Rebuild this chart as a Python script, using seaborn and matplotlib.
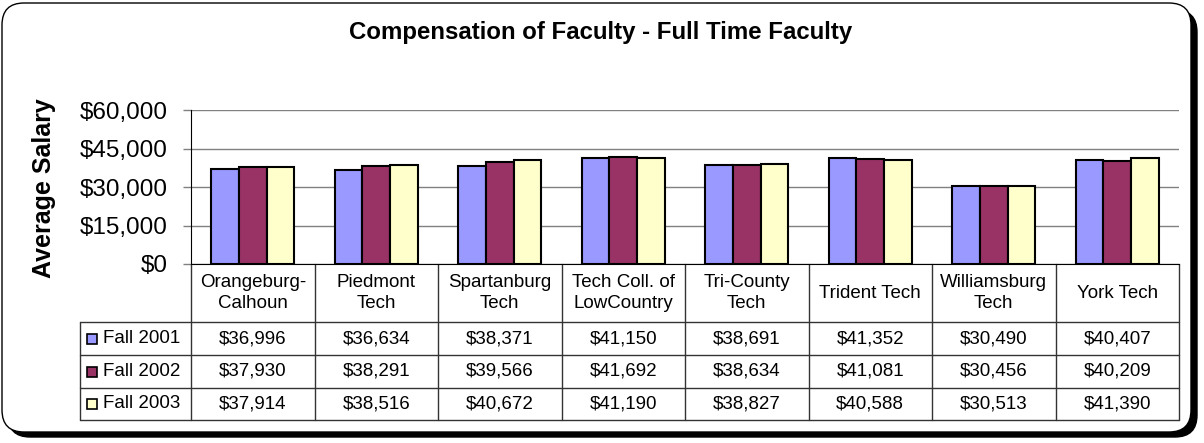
import pandas as pd
import matplotlib.pyplot as plt
import seaborn as sns
from matplotlib.patches import FancyBboxPatch, Rectangle
from matplotlib.transforms import IdentityTransform
from matplotlib.ticker import FuncFormatter

colleges = ["Orangeburg-Calhoun", "Piedmont Tech", "Spartanburg Tech", "Tech Coll. of LowCountry",
            "Tri-County Tech", "Trident Tech", "Williamsburg Tech", "York Tech"]
col_labels = ["Orangeburg-\nCalhoun", "Piedmont\nTech", "Spartanburg\nTech", "Tech Coll. of\nLowCountry",
              "Tri-County\nTech", "Trident Tech", "Williamsburg\nTech", "York Tech"]
terms = ["Fall 2001", "Fall 2002", "Fall 2003"]
fall_2001 = [36996, 36634, 38371, 41150, 38691, 41352, 30490, 40407]
fall_2002 = [37930, 38291, 39566, 41692, 38634, 41081, 30456, 40209]
fall_2003 = [37914, 38516, 40672, 41190, 38827, 40588, 30513, 41390]
colors = ["#9999FF", "#993366", "#FFFFCC"]

series = [fall_2001, fall_2002, fall_2003]
rows = []
for term, vals in zip(terms, series):
    for c, v in zip(colleges, vals):
        rows.append({"college": c, "term": term, "salary": v})
df = pd.DataFrame(rows)

sns.set_style("white")
plt.rcParams["font.family"] = ["Liberation Sans", "DejaVu Sans"]
plt.rcParams["text.color"] = "black"
plt.rcParams["axes.labelcolor"] = "black"
plt.rcParams["ytick.color"] = "black"

W, H = 1204, 443
fig = plt.figure(figsize=(W / 100, H / 100), dpi=100)

# rounded frame with drop shadow, kept behind the axes
shadow = FancyBboxPatch((8, 6), 1189, 427, boxstyle="round,pad=0,rounding_size=22",
                        transform=IdentityTransform(), facecolor="black", edgecolor="black",
                        zorder=-3)
frame = FancyBboxPatch((2, 11), 1189, 429, boxstyle="round,pad=0,rounding_size=22",
                       transform=IdentityTransform(), facecolor="white", edgecolor="black", lw=1,
                       zorder=-2)
fig.patches.extend([shadow, frame])

ax_left, ax_right, ax_top, ax_bot = 191, 1179, 110, 264
ax = fig.add_axes([ax_left / W, 1 - ax_bot / H, (ax_right - ax_left) / W, (ax_bot - ax_top) / H])
ax.set_facecolor("none")

sns.barplot(data=df, x="college", y="salary", hue="term", palette=colors, width=0.67,
            saturation=1, edgecolor="black", linewidth=1.5, ax=ax, legend=False)

ax.set_xlim(-0.5, len(colleges) - 0.5)
ax.set_ylim(0, 60000)
ax.set_yticks(range(0, 60001, 15000))
ax.yaxis.set_major_formatter(FuncFormatter(lambda v, p: f"${v:,.0f}"))
ax.tick_params(axis="y", labelsize=17.5, length=6, width=1, color="#808080", labelcolor="black",
               pad=11, left=True)
ax.tick_params(axis="x", bottom=False, labelbottom=False)
ax.set_xlabel("")
ax.set_ylabel("Average Salary", fontsize=18, fontweight="bold")
ax.yaxis.set_label_coords(-0.137, 0.49)
ax.grid(axis="y", color="#808080", lw=1)
ax.set_axisbelow(True)
for s in ["top", "right"]:
    ax.spines[s].set_visible(False)
ax.spines["left"].set_color("black")
ax.spines["bottom"].set_color("black")

fig.text(601 / W, 1 - 33 / H, "Compensation of Faculty - Full Time Faculty",
         ha="center", va="center", fontsize=17.3, fontweight="bold")

# data table under the chart
ph = ax_bot - ax_top
def fy(py):
    return (ax_bot - py) / ph

n = len(colleges)
leg_x = (80 - ax_left) / (ax_right - ax_left)
row_edges = [322, 355, 388, 420]
line_kw = dict(transform=ax.transAxes, clip_on=False, color="#333333", lw=1)
for py in row_edges:
    ax.plot([leg_x, 1], [fy(py), fy(py)], **line_kw)
for i in range(n + 1):
    ax.plot([i / n, i / n], [0, fy(420)], **line_kw)
ax.plot([leg_x, leg_x], [fy(322), fy(420)], **line_kw)

for i, lab in enumerate(col_labels):
    ax.text((i + 0.5) / n, fy(293), lab, transform=ax.transAxes, ha="center", va="center",
            fontsize=13.5, linespacing=1.25)

for r, (term, vals, col) in enumerate(zip(terms, series, colors)):
    cy = (row_edges[r] + row_edges[r + 1]) / 2
    sw = Rectangle((87 / W, 1 - (cy + 5) / H), 10 / W, 10 / H, transform=fig.transFigure,
                   facecolor=col, edgecolor="black", lw=1.2)
    fig.patches.append(sw)
    fig.text(103 / W, 1 - cy / H, term, ha="left", va="center", fontsize=13.5)
    for i, v in enumerate(vals):
        ax.text((i + 0.5) / n, fy(cy), f"${v:,}", transform=ax.transAxes, ha="center",
                va="center", fontsize=13.5)

fig.savefig("out.png", dpi=100)
